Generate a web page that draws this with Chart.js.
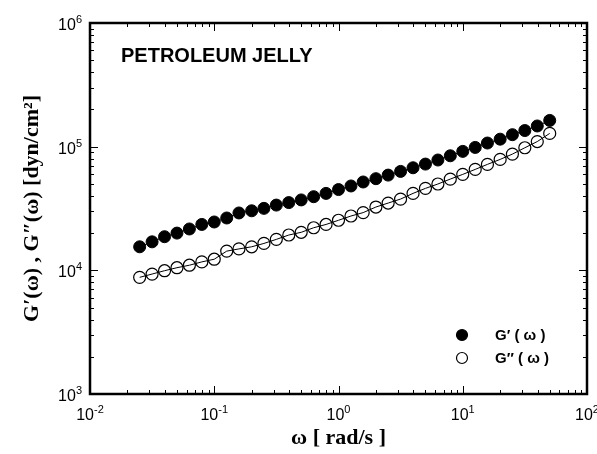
<!DOCTYPE html>
<html>
<head>
<meta charset="utf-8">
<script src="https://cdn.jsdelivr.net/npm/chart.js@4.4.1/dist/chart.umd.min.js"></script>
<style>
    html, body { margin: 0; padding: 0; background: #fff; }
    #wrap { width: 597px; height: 454px; }
</style>
</head>
<body>
<div id="wrap"><canvas id="rheoChart" width="597" height="454"></canvas></div>
<script>
// frequency sweep, rad/s
const omega = [0.0251, 0.0316, 0.0398, 0.0501, 0.0631, 0.0794, 0.1, 0.126, 0.158, 0.2,
    0.251, 0.316, 0.398, 0.501, 0.631, 0.794, 1, 1.26, 1.58, 2,
    2.51, 3.16, 3.98, 5.01, 6.31, 7.94, 10, 12.6, 15.8, 20,
    25.1, 31.6, 39.8, 50.1];
// storage modulus G' (dyn/cm2)
const gPrime = [15500, 17000, 18700, 20000, 21600, 23500, 24600, 26500, 29100, 30300,
    31700, 33700, 35300, 37100, 39400, 41900, 45000, 48100, 51800, 55100,
    58900, 63100, 67500, 72300, 78000, 84400, 91600, 98600, 107000, 115000,
    125000, 135000, 147000, 163000];
// loss modulus G'' (dyn/cm2)
const gDoublePrime = [8780, 9330, 9930, 10500, 11000, 11700, 12300, 14300, 14900, 15500,
    16500, 17800, 19300, 20300, 22100, 23500, 25400, 27500, 29300, 32500,
    35000, 37700, 41900, 46000, 49900, 54700, 59700, 65500, 71900, 78900,
    87100, 98000, 110000, 128000];

// decade ticks: base label "10" plus exponent
const xTicks = [0.01, 0.1, 1, 10, 100];
const xTickExps = ['-2', '-1', '0', '1', '2'];
const yTicks = [1000, 10000, 100000, 1000000];
const yTickExps = ['3', '4', '5', '6'];
const seriesLabels = ['G\u2032 ( \u03C9 )', 'G\u2033 ( \u03C9 )'];
const sampleName = 'PETROLEUM JELLY';

const sansFamily = '"Liberation Sans", Arial, sans-serif';

document.addEventListener('DOMContentLoaded', function () {
    drawChart();
});

function toPoints(xs, ys) {
    return xs.map((x, i) => ({ x: x, y: ys[i] }));
}

// box frame with inward major/minor ticks on all four sides
const frameTicks = {
    id: 'frameTicks',
    afterDatasetsDraw(chart) {
        const { ctx, chartArea: a, scales: { x, y } } = chart;
        ctx.save();
        ctx.strokeStyle = '#000';
        ctx.lineWidth = 1;
        ctx.beginPath();
        for (let e = -2; e < 2; e++) {
            for (let m = 1; m <= 9; m++) {
                const px = Math.round(x.getPixelForValue(m * Math.pow(10, e))) + 0.5;
                const len = m === 1 ? 8 : 4;
                ctx.moveTo(px, a.bottom); ctx.lineTo(px, a.bottom - len);
                ctx.moveTo(px, a.top); ctx.lineTo(px, a.top + len);
            }
        }
        for (let e = 3; e < 6; e++) {
            for (let m = 1; m <= 9; m++) {
                const py = Math.round(y.getPixelForValue(m * Math.pow(10, e))) + 0.5;
                const len = m === 1 ? 8 : 4;
                ctx.moveTo(a.left, py); ctx.lineTo(a.left + len, py);
                ctx.moveTo(a.right, py); ctx.lineTo(a.right - len, py);
            }
        }
        ctx.stroke();
        ctx.lineWidth = 2.5;
        ctx.strokeRect(a.left, a.top, a.right - a.left, a.bottom - a.top);
        ctx.restore();
    }
};

// "10" with a raised exponent, placed at the scale's own tick pixels
const powerLabels = {
    id: 'powerLabels',
    afterDraw(chart) {
        const { ctx, chartArea: a, scales: { x, y } } = chart;
        const baseFont = '16px ' + sansFamily;
        const expFont = '11px ' + sansFamily;
        ctx.save();
        ctx.fillStyle = '#000';
        ctx.textBaseline = 'alphabetic';
        ctx.textAlign = 'left';

        xTicks.forEach((v, i) => {
            ctx.font = baseFont;
            const wb = ctx.measureText('10').width;
            ctx.font = expFont;
            const we = ctx.measureText(xTickExps[i]).width;
            const left = x.getPixelForValue(v) - (wb + we) / 2;
            ctx.font = baseFont;
            ctx.fillText('10', left, a.bottom + 26);
            ctx.font = expFont;
            ctx.fillText(xTickExps[i], left + wb, a.bottom + 19);
        });

        yTicks.forEach((v, i) => {
            const py = y.getPixelForValue(v);
            ctx.font = expFont;
            const we = ctx.measureText(yTickExps[i]).width;
            ctx.font = baseFont;
            const wb = ctx.measureText('10').width;
            const right = a.left - 8;
            ctx.fillText('10', right - we - wb, py + 7);
            ctx.font = expFont;
            ctx.fillText(yTickExps[i], right - we, py);
        });
        ctx.restore();
    }
};

// sample name and in-plot legend
const annotations = {
    id: 'annotations',
    afterDraw(chart) {
        const { ctx, chartArea: a } = chart;
        ctx.save();
        ctx.fillStyle = '#000';
        ctx.textBaseline = 'middle';
        ctx.font = 'bold 20px ' + sansFamily;
        ctx.fillText(sampleName, a.left + 31, a.top + 33);

        ctx.font = 'bold 15px ' + sansFamily;
        const rows = [a.bottom - 59, a.bottom - 36];
        chart.data.datasets.forEach((ds, i) => {
            const cx = a.right - 125;
            ctx.beginPath();
            ctx.arc(cx, rows[i], 5.5, 0, Math.PI * 2);
            ctx.fillStyle = ds.pointBackgroundColor;
            ctx.fill();
            ctx.lineWidth = 1.2;
            ctx.strokeStyle = '#000';
            ctx.stroke();
            ctx.fillStyle = '#000';
            ctx.fillText(ds.label, a.right - 92, rows[i] + 1);
        });
        ctx.restore();
    }
};

function drawChart() {
    const ctx = document.getElementById('rheoChart').getContext('2d');
    const titleFont = { family: '"Liberation Serif", "Times New Roman", serif', size: 22, weight: 'bold' };

    window.rheoChart = new Chart(ctx, {
        type: 'scatter',
        data: {
            datasets: [
                {
                    label: seriesLabels[0],
                    data: toPoints(omega, gPrime),
                    showLine: true,
                    borderColor: '#000',
                    borderWidth: 1,
                    pointRadius: 6,
                    pointBackgroundColor: '#000',
                    pointBorderColor: '#000',
                    pointBorderWidth: 1
                },
                {
                    label: seriesLabels[1],
                    data: toPoints(omega, gDoublePrime),
                    showLine: true,
                    borderColor: '#000',
                    borderWidth: 1,
                    pointRadius: 6,
                    pointBackgroundColor: 'rgba(255,255,255,0)',
                    pointBorderColor: '#000',
                    pointBorderWidth: 1.2
                }
            ]
        },
        options: {
            responsive: false,
            animation: false,
            devicePixelRatio: 1,
            layout: { padding: { top: 23, right: 10, left: 0, bottom: 0 } },
            scales: {
                x: {
                    type: 'logarithmic',
                    min: 0.01,
                    max: 100,
                    grid: { display: false, drawTicks: false },
                    border: { display: false },
                    afterBuildTicks: function (scale) {
                        scale.ticks = xTicks.map(v => ({ value: v }));
                    },
                    afterFit: function (scale) {
                        scale.height = 60;
                        scale.paddingLeft = 0;
                        scale.paddingRight = 0;
                    },
                    ticks: { display: false },
                    title: {
                        display: true,
                        text: '\u03C9 [ rad/s ]',
                        color: '#000',
                        font: titleFont,
                        padding: { top: 0, bottom: 2 }
                    }
                },
                y: {
                    type: 'logarithmic',
                    min: 1000,
                    max: 1000000,
                    grid: { display: false, drawTicks: false },
                    border: { display: false },
                    afterBuildTicks: function (scale) {
                        scale.ticks = yTicks.map(v => ({ value: v }));
                    },
                    afterFit: function (scale) {
                        scale.width = 90;
                        scale.paddingTop = 0;
                        scale.paddingBottom = 0;
                    },
                    ticks: { display: false },
                    title: {
                        display: true,
                        text: 'G\u2032(\u03C9) , G\u2033(\u03C9) [dyn/cm\u00B2]',
                        color: '#000',
                        font: titleFont,
                        padding: { top: 19, bottom: 0 }
                    }
                }
            },
            plugins: {
                legend: { display: false },
                tooltip: { enabled: false }
            }
        },
        plugins: [frameTicks, powerLabels, annotations]
    });
}
</script>
</body>
</html>
